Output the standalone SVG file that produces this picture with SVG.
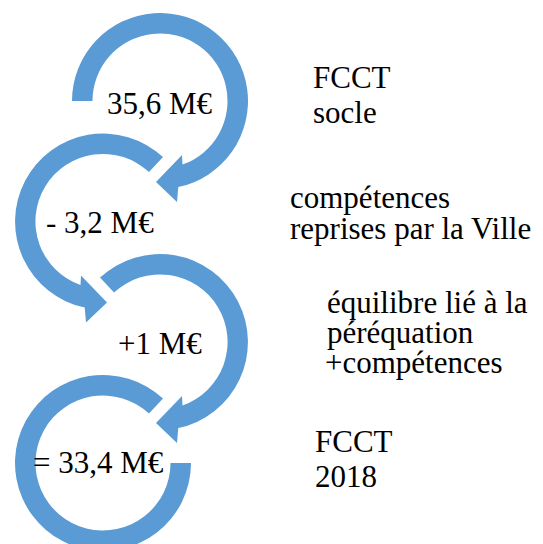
<svg xmlns="http://www.w3.org/2000/svg" width="543" height="544" viewBox="0 0 543 544">
<rect width="543" height="544" fill="#fff"/>
<g id="connectors" fill="#5B9BD5">
<path id="ring1" d="M72,101 A88,88 0 1 1 178.3,187.1 L177,202 L156,182 L182,155 L182.5,164.6 A67.5,67.5 0 1 0 92.5,101 Z"/>
<path id="ring2" d="M163,157.1 A88,88 0 1 0 84.7,307.6 L86,322.5 L107,302.5 L81,275.5 L80.5,285.1 A67.5,67.5 0 1 1 149,172.1 Z"/>
<path id="ring3" d="M100,277.6 A88,88 0 1 1 178.3,428.1 L177,443 L156,423 L182,396 L182.5,405.6 A67.5,67.5 0 1 0 114,292.6 Z"/>
<path id="ring4" d="M163,398.6 A88,88 0 1 0 191,463 L170.5,463 A67.5,67.5 0 1 1 149,413.6 Z"/>
</g>
<g id="node1"><text x="107" y="114" font-family="Times New Roman, Liberation Serif, serif" font-size="31">35,6 M€</text></g>
<g id="node2"><text x="46" y="233" font-family="Times New Roman, Liberation Serif, serif" font-size="31">- 3,2 M€</text></g>
<g id="node3"><text x="118" y="354" font-family="Times New Roman, Liberation Serif, serif" font-size="31">+1 M€</text></g>
<g id="node4"><text x="33" y="473" font-family="Times New Roman, Liberation Serif, serif" font-size="31">= 33,4 M€</text></g>
<g id="label1"><text x="313" y="88" font-family="Times New Roman, Liberation Serif, serif" font-size="31">FCCT</text><text x="313" y="123" font-family="Times New Roman, Liberation Serif, serif" font-size="31">socle</text></g>
<g id="label2"><text x="290" y="208" font-family="Times New Roman, Liberation Serif, serif" font-size="31">compétences</text><text x="290" y="239" font-family="Times New Roman, Liberation Serif, serif" font-size="31">reprises par la Ville</text></g>
<g id="label3"><text x="327" y="313" font-family="Times New Roman, Liberation Serif, serif" font-size="31">équilibre lié à la</text><text x="327" y="343" font-family="Times New Roman, Liberation Serif, serif" font-size="31">péréquation</text><text x="325" y="373" font-family="Times New Roman, Liberation Serif, serif" font-size="31">+compétences</text></g>
<g id="label4"><text x="315" y="452" font-family="Times New Roman, Liberation Serif, serif" font-size="31">FCCT</text><text x="315" y="487" font-family="Times New Roman, Liberation Serif, serif" font-size="31">2018</text></g>
</svg>
